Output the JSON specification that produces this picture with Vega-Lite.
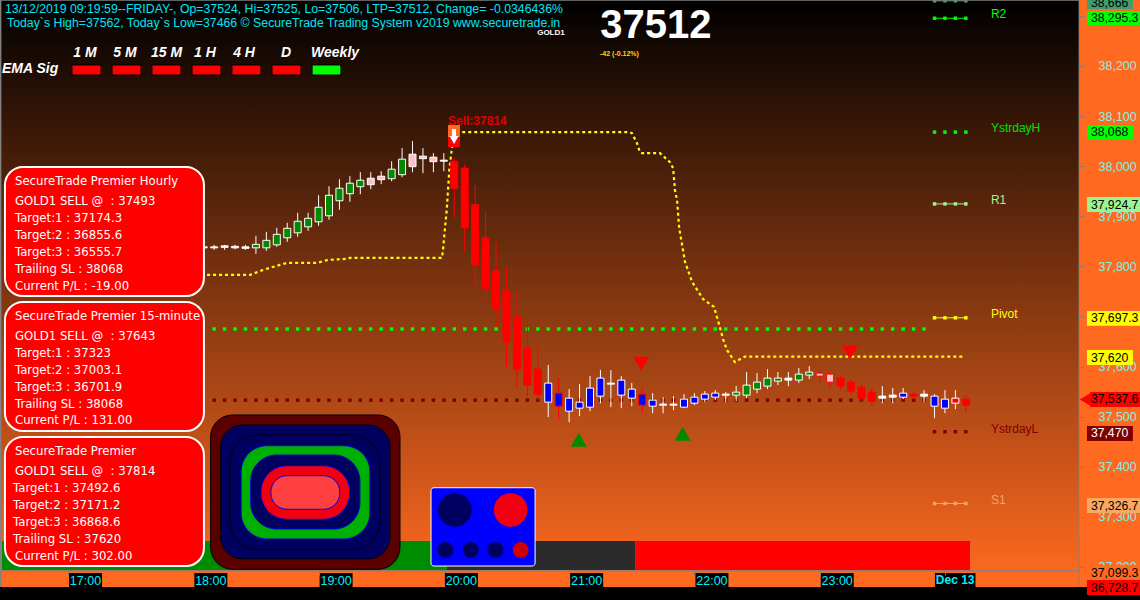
{"$schema":"https://vega.github.io/schema/vega-lite/v6.json","width":1140,"height":600,"padding":0,"autosize":"none","background":"#FF6A20","config":{"view":{"stroke":null},"legend":{"disable":true},"text":{"font":"Liberation Sans","baseline":"middle","align":"left"}},
"datasets":{
"candles":[
{"t":65,"open":37837,"close":37839,"high":37843,"low":37835,"kind":"doji","a":37675,"b":37533},
{"t":70,"open":37837,"close":37839,"high":37843,"low":37833,"kind":"doji","a":37675,"b":37533},
{"t":75,"open":37838,"close":37841,"high":37843,"low":37833,"kind":"doji","a":37675,"b":37533},
{"t":80,"open":37837,"close":37840,"high":37843,"low":37834,"kind":"doji","a":37675,"b":37533},
{"t":85,"open":37836,"close":37839,"high":37843,"low":37833,"kind":"doji","a":37675,"b":37533},
{"t":90,"open":37837,"close":37844,"high":37861,"low":37825,"kind":"green","a":37675,"b":37533},
{"t":95,"open":37837,"close":37852,"high":37869,"low":37831,"kind":"green","a":37675,"b":37533},
{"t":100,"open":37843,"close":37864,"high":37877,"low":37839,"kind":"green","a":37675,"b":37533},
{"t":105,"open":37857,"close":37876,"high":37887,"low":37849,"kind":"green","a":37675,"b":37533},
{"t":110,"open":37867,"close":37890,"high":37907,"low":37859,"kind":"green","a":37675,"b":37533},
{"t":115,"open":37879,"close":37896,"high":37907,"low":37871,"kind":"green","a":37675,"b":37533},
{"t":120,"open":37889,"close":37918,"high":37942,"low":37881,"kind":"green","a":37675,"b":37533},
{"t":125,"open":37901,"close":37942,"high":37960,"low":37893,"kind":"green","a":37675,"b":37533},
{"t":130,"open":37931,"close":37956,"high":37974,"low":37913,"kind":"green","a":37675,"b":37533},
{"t":135,"open":37945,"close":37966,"high":37980,"low":37929,"kind":"green","a":37675,"b":37533},
{"t":140,"open":37959,"close":37972,"high":37988,"low":37944,"kind":"green","a":37675,"b":37533},
{"t":145,"open":37976,"close":37963,"high":37988,"low":37954,"kind":"pink","a":37675,"b":37533},
{"t":150,"open":37980,"close":37973,"high":37990,"low":37964,"kind":"pink","a":37675,"b":37533},
{"t":155,"open":37975,"close":37994,"high":38010,"low":37970,"kind":"green","a":37675,"b":37533},
{"t":160,"open":37983,"close":38014,"high":38036,"low":37978,"kind":"green","a":37675,"b":37533},
{"t":165,"open":38024,"close":37999,"high":38050,"low":37988,"kind":"pink","a":37675,"b":37533},
{"t":170,"open":38020,"close":38015,"high":38036,"low":37986,"kind":"pink","a":37675,"b":37533},
{"t":175,"open":38018,"close":38009,"high":38026,"low":37988,"kind":"pink","a":37675,"b":37533},
{"t":180,"open":38012,"close":38010,"high":38026,"low":37990,"kind":"doji","a":37675,"b":37533},
{"t":185,"open":38010,"close":37956,"high":38016,"low":37897,"kind":"red","a":37675,"b":37533},
{"t":190,"open":37996,"close":37877,"high":38004,"low":37829,"kind":"red","a":37675,"b":37533},
{"t":195,"open":37923,"close":37803,"high":37962,"low":37755,"kind":"red","a":37675,"b":37533},
{"t":200,"open":37857,"close":37755,"high":37909,"low":37721,"kind":"red","a":37675,"b":37533},
{"t":205,"open":37791,"close":37715,"high":37849,"low":37679,"kind":"red","a":37675,"b":37533},
{"t":210,"open":37751,"close":37649,"high":37799,"low":37599,"kind":"red","a":37675,"b":37533},
{"t":215,"open":37699,"close":37595,"high":37751,"low":37559,"kind":"red","a":37675,"b":37533},
{"t":220,"open":37637,"close":37563,"high":37691,"low":37541,"kind":"red","a":37675,"b":37533},
{"t":225,"open":37595,"close":37545,"high":37643,"low":37533,"kind":"red","a":37675,"b":37533},
{"t":230,"open":37567,"close":37529,"high":37603,"low":37499,"kind":"blue","a":37675,"b":37533},
{"t":235,"open":37547,"close":37521,"high":37577,"low":37495,"kind":"blueR","a":37675,"b":37533},
{"t":240,"open":37537,"close":37511,"high":37555,"low":37489,"kind":"blue","a":37675,"b":37533},
{"t":245,"open":37529,"close":37517,"high":37565,"low":37501,"kind":"blue","a":37675,"b":37533},
{"t":250,"open":37557,"close":37519,"high":37581,"low":37511,"kind":"blue","a":37675,"b":37533},
{"t":255,"open":37577,"close":37541,"high":37593,"low":37527,"kind":"blue","a":37675,"b":37533},
{"t":260,"open":37567,"close":37565,"high":37593,"low":37519,"kind":"doji","a":37675,"b":37533},
{"t":265,"open":37573,"close":37543,"high":37581,"low":37517,"kind":"blue","a":37675,"b":37533},
{"t":270,"open":37555,"close":37537,"high":37567,"low":37521,"kind":"blue","a":37675,"b":37533},
{"t":275,"open":37545,"close":37523,"high":37555,"low":37507,"kind":"blueR","a":37675,"b":37533},
{"t":280,"open":37533,"close":37521,"high":37547,"low":37507,"kind":"blue","a":37675,"b":37533},
{"t":285,"open":37525,"close":37523,"high":37539,"low":37507,"kind":"doji","a":37675,"b":37533},
{"t":290,"open":37525,"close":37523,"high":37541,"low":37513,"kind":"doji","a":37675,"b":37533},
{"t":295,"open":37535,"close":37519,"high":37545,"low":37517,"kind":"blue","a":37675,"b":37533},
{"t":300,"open":37539,"close":37527,"high":37547,"low":37523,"kind":"blue","a":37675,"b":37533},
{"t":305,"open":37545,"close":37535,"high":37551,"low":37529,"kind":"blue","a":37675,"b":37533},
{"t":310,"open":37547,"close":37539,"high":37553,"low":37533,"kind":"blue","a":37675,"b":37533},
{"t":315,"open":37545,"close":37543,"high":37549,"low":37529,"kind":"doji","a":37675,"b":37533},
{"t":320,"open":37543,"close":37549,"high":37561,"low":37531,"kind":"green","a":37675,"b":37533},
{"t":325,"open":37543,"close":37563,"high":37589,"low":37537,"kind":"green","a":37675,"b":37533},
{"t":330,"open":37555,"close":37569,"high":37587,"low":37547,"kind":"green","a":37675,"b":37533},
{"t":335,"open":37561,"close":37577,"high":37595,"low":37555,"kind":"green","a":37675,"b":37533},
{"t":340,"open":37571,"close":37577,"high":37589,"low":37563,"kind":"green","a":37675,"b":37533},
{"t":345,"open":37573,"close":37577,"high":37589,"low":37561,"kind":"doji","a":37675,"b":37533},
{"t":350,"open":37573,"close":37585,"high":37597,"low":37567,"kind":"green","a":37675,"b":37533},
{"t":355,"open":37583,"close":37589,"high":37601,"low":37575,"kind":"green","a":37675,"b":37533},
{"t":360,"open":37587,"close":37581,"high":37593,"low":37567,"kind":"pinkR","a":37675,"b":37533},
{"t":365,"open":37585,"close":37569,"high":37589,"low":37557,"kind":"pinkR","a":37675,"b":37533},
{"t":370,"open":37577,"close":37561,"high":37581,"low":37553,"kind":"red","a":37675,"b":37533},
{"t":375,"open":37569,"close":37551,"high":37575,"low":37543,"kind":"red","a":37675,"b":37533},
{"t":380,"open":37559,"close":37537,"high":37565,"low":37529,"kind":"red","a":37675,"b":37533},
{"t":385,"open":37549,"close":37531,"high":37557,"low":37521,"kind":"red","a":37675,"b":37533},
{"t":390,"open":37541,"close":37537,"high":37561,"low":37527,"kind":"doji","a":37675,"b":37533},
{"t":395,"open":37543,"close":37539,"high":37557,"low":37527,"kind":"doji","a":37675,"b":37533},
{"t":400,"open":37547,"close":37539,"high":37557,"low":37535,"kind":"blue","a":37675,"b":37533},
{"t":405,"open":37545,"close":37541,"high":37551,"low":37535,"kind":"red","a":37675,"b":37533},
{"t":410,"open":37545,"close":37541,"high":37553,"low":37529,"kind":"doji","a":37675,"b":37533},
{"t":415,"open":37541,"close":37521,"high":37545,"low":37497,"kind":"blue"},
{"t":420,"open":37535,"close":37517,"high":37553,"low":37507,"kind":"blue"},
{"t":425,"open":37537,"close":37527,"high":37553,"low":37515,"kind":"redW"},
{"t":430,"open":37535,"close":37523,"high":37543,"low":37509,"kind":"red"}
],
"trail":[{"t":66.6,"price":37783},{"t":87.2,"price":37783},{"t":93.4,"price":37793},{"t":101.5,"price":37803},{"t":104.9,"price":37807},{"t":119.3,"price":37807},{"t":124.5,"price":37813},{"t":133.6,"price":37815},{"t":135,"price":37817},{"t":179.1,"price":37817},{"t":179.6,"price":37833},{"t":180.6,"price":37879},{"t":181.5,"price":37919},{"t":182,"price":37952},{"t":182.6,"price":37992},{"t":183.8,"price":38034},{"t":184.9,"price":38068},{"t":268.7,"price":38068},{"t":270.1,"price":38066},{"t":272.5,"price":38046},{"t":273.9,"price":38028},{"t":274.9,"price":38026},{"t":283.5,"price":38026},{"t":288.3,"price":38008},{"t":289.8,"price":37996},{"t":290.7,"price":37952},{"t":291.7,"price":37932},{"t":292.7,"price":37877},{"t":295.5,"price":37809},{"t":298.9,"price":37769},{"t":304.1,"price":37735},{"t":309.4,"price":37719},{"t":310.8,"price":37699},{"t":312.3,"price":37677},{"t":313.7,"price":37655},{"t":315.6,"price":37633},{"t":319.4,"price":37609},{"t":324.2,"price":37620},{"t":428.6,"price":37620}],
"levels":[
{"key":"R3","kindL":"line","t":415,"price":38330},{"key":"R3","kindL":"line","t":420,"price":38330},{"key":"R3","kindL":"line","t":425,"price":38330},{"key":"R3","kindL":"line","t":430,"price":38330},
{"key":"R2","kindL":"line","t":415,"price":38295.3},{"key":"R2","kindL":"line","t":420,"price":38295.3},{"key":"R2","kindL":"line","t":425,"price":38295.3},{"key":"R2","kindL":"line","t":430,"price":38295.3},
{"key":"YH","kindL":"dots","t":415,"price":38068},{"key":"YH","kindL":"dots","t":420,"price":38068},{"key":"YH","kindL":"dots","t":425,"price":38068},{"key":"YH","kindL":"dots","t":430,"price":38068},
{"key":"R1","kindL":"line","t":415,"price":37924.7},{"key":"R1","kindL":"line","t":420,"price":37924.7},{"key":"R1","kindL":"line","t":425,"price":37924.7},{"key":"R1","kindL":"line","t":430,"price":37924.7},
{"key":"Pivot","kindL":"line","t":415,"price":37697.3},{"key":"Pivot","kindL":"line","t":420,"price":37697.3},{"key":"Pivot","kindL":"line","t":425,"price":37697.3},{"key":"Pivot","kindL":"line","t":430,"price":37697.3},
{"key":"YL","kindL":"dots","t":415,"price":37470},{"key":"YL","kindL":"dots","t":420,"price":37470},{"key":"YL","kindL":"dots","t":425,"price":37470},{"key":"YL","kindL":"dots","t":430,"price":37470},
{"key":"S1","kindL":"line","t":415,"price":37326.7},{"key":"S1","kindL":"line","t":420,"price":37326.7},{"key":"S1","kindL":"line","t":425,"price":37326.7},{"key":"S1","kindL":"line","t":430,"price":37326.7}
],
"levelLabels":[{"label":"R2","key":"R2","t":442,"price":38304},{"label":"YstrdayH","key":"YHt","t":442,"price":38076},{"label":"R1","key":"R1","t":442,"price":37932.5},{"label":"Pivot","key":"Pivot","t":442,"price":37705},{"label":"YstrdayL","key":"YL","t":442,"price":37475.4},{"label":"S1","key":"S1","t":442,"price":37333.7}],
"tags":[
{"label":"38,666","key":"R3","t":488,"t2":510,"price":38331.7,"price2":38313.7,"mid":38325.7,"tx":489.9},
{"label":"38,295.3","key":"R2","t":488,"t2":513.41,"price":38309.7,"price2":38281.8,"mid":38295.8,"tx":489.9},
{"label":"38,068","key":"YH","t":488,"t2":510,"price":38082.2,"price2":38053.3,"mid":38068,"tx":489.9},
{"label":"37,924.7","key":"R1","t":488,"t2":513.41,"price":37938.5,"price2":37908.5,"mid":37923.5,"tx":489.9},
{"label":"37,697.3","key":"Pivot","t":488,"t2":513.41,"price":37710.9,"price2":37681.6,"mid":37696.3,"tx":489.9},
{"label":"37,620","key":"Pivot","t":488,"t2":510,"price":37633.1,"price2":37603.2,"mid":37618.1,"tx":489.9},
{"label":"37,537.6","key":"LTP","t":489.5,"t2":513.41,"price":37549.3,"price2":37519.3,"mid":37534.3,"tx":489.9},
{"label":"37,470","key":"YL","t":488,"t2":510,"price":37481.4,"price2":37451.5,"mid":37466.5,"tx":489.9},
{"label":"37,326.7","key":"S1t","t":488,"t2":513.41,"price":37337.7,"price2":37307.8,"mid":37322.7,"tx":489.9},
{"label":"37,099.3","key":"Base","t":488,"t2":513.41,"price":37204,"price2":37174,"mid":37188.6,"tx":489.9},
{"label":"36,728.7","key":"LTP","t":488,"t2":513.41,"price":37174,"price2":37144,"mid":37159,"tx":489.9}
],
"ema":[
{"tf":"1 M","key":"SELL","t":1.9,"t2":15.8,"tc":8.1,"price":38202,"price2":38182,"pl":38226},{"tf":"5 M","key":"SELL","t":21.1,"t2":35,"tc":27.3,"price":38202,"price2":38182,"pl":38226},{"tf":"15 M","key":"SELL","t":40.2,"t2":54.1,"tc":47.2,"price":38202,"price2":38182,"pl":38226},{"tf":"1 H","key":"SELL","t":59.4,"t2":73.3,"tc":65.6,"price":38202,"price2":38182,"pl":38226},{"tf":"4 H","key":"SELL","t":78.5,"t2":92.4,"tc":84.3,"price":38202,"price2":38182,"pl":38226},{"tf":"D","key":"SELL","t":97.7,"t2":111.6,"tc":104.4,"price":38202,"price2":38182,"pl":38226},{"tf":"Weekly","key":"BUY","t":116.9,"t2":130.7,"tc":127.9,"price":38202,"price2":38182,"pl":38226}
],
"cardsText":[
{"label":"SecureTrade Premier Hourly","t":-25.4,"price":37970.4},{"label":"GOLD1 SELL @ \u00a0: 37493","t":-25.4,"price":37931.1},{"label":"Target:1 : 37174.3","t":-25.4,"price":37897.2},{"label":"Target:2 : 36855.6","t":-25.4,"price":37863.2},{"label":"Target:3 : 36555.7","t":-25.4,"price":37829.3},{"label":"Trailing SL : 38068","t":-25.4,"price":37795.4},{"label":"Current P/L : -19.00","t":-25.4,"price":37761.4},
{"label":"SecureTrade Premier 15-minute","t":-25.4,"price":37701.6},{"label":"GOLD1 SELL @ \u00a0: 37643","t":-25.4,"price":37661.6},{"label":"Target:1 : 37323","t":-25.4,"price":37627.1},{"label":"Target:2 : 37003.1","t":-25.4,"price":37593.2},{"label":"Target:3 : 36701.9","t":-25.4,"price":37559.8},{"label":"Trailing SL : 38068","t":-25.4,"price":37525.9},{"label":"Current P/L : 131.00","t":-25.4,"price":37492.8},
{"label":"SecureTrade Premier","t":-25.4,"price":37432.1},{"label":"GOLD1 SELL @ \u00a0: 37814","t":-25.4,"price":37392.2},{"label":"Target:1 : 37492.6","t":-26.3,"price":37358.2},{"label":"Target:2 : 37171.2","t":-26.3,"price":37324.3},{"label":"Target:3 : 36868.6","t":-26.3,"price":37290.4},{"label":"Trailing SL : 37620","t":-26.3,"price":37256.4},{"label":"Current P/L : 302.00","t":-25.4,"price":37222.5}
]},
"encoding":{
"x":{"field":"t","type":"quantitative","title":null,"scale":{"domain":[-32.57,513.41],"nice":false,"zero":false,"padding":0},
"axis":{"orient":"bottom","offset":-30,"values":[0,60,120,180,240,300,360,420],"labelExpr":"datum.value<420 ? format(17+datum.value/60,'d')+':00' : ''","grid":false,"domain":false,"tickColor":"#808080","tickSize":5,"labelColor":"#00F0FF","labelFont":"Liberation Sans","labelFontSize":12.5,"labelBaseline":"middle","labelPadding":5,"labelOffset":17,"labelFlush":false,"labelOverlap":false,"labelBound":false,"zindex":1,"title":null}},
"y":{"field":"price","type":"quantitative","title":null,"scale":{"domain":[37134.1,38331.7],"nice":false,"zero":false,"padding":0},
"axis":{"orient":"right","offset":-61,"values":[38300,38200,38100,38000,37900,37800,37700,37600,37500,37400,37300,37200],"format":",d","grid":false,"domain":false,"tickColor":"#808080","tickSize":5,"labelColor":"#7FF0E8","labelFont":"Liberation Sans","labelFontSize":12.5,"labelPadding":14,"labelFlush":false,"labelOverlap":false,"labelBound":false,"zindex":0,"title":null}}
},
"layer":[
{"data":{"values":[{"t":-32.57,"t2":484.2,"price":38331.7,"price2":37194}]},"mark":{"type":"rect","color":{"gradient":"linear","x1":0,"y1":0,"x2":0,"y2":1,"stops":[{"offset":0,"color":"#000000"},{"offset":1,"color":"#FA681F"}]}},"encoding":{"x2":{"field":"t2"},"y2":{"field":"price2"}}},
{"data":{"values":[{"key":"bandBuy","t":-31.6,"t2":181.5,"price":37251.9,"price2":37194},{"key":"bandFlat","t":181.5,"t2":271.6,"price":37251.9,"price2":37194},{"key":"bandSell","t":271.6,"t2":432,"price":37251.9,"price2":37194}]},"mark":{"type":"rect"},"encoding":{"x2":{"field":"t2"},"y2":{"field":"price2"},"color":{"field":"key","type":"nominal","legend":null,"scale":{
"domain":["R3","R2","YH","YHt","R1","Pivot","LTP","YL","S1","S1t","Base","bandBuy","bandFlat","bandSell","SELL","BUY","maroon","navy","green2","red2","salmon","blue2","redDark"],
"range":["#3E9E6E","#00FF00","#00FF00","#00E000","#9CF590","#FFFF00","#FF0000","#800000","#F4A460","#F8A860","#FF6A20","#008C00","#2B2B2B","#FF0000","#FF0000","#00FF00","#5A0000","#000060","#00B000","#F00010","#FF4040","#0000FF","#D00000"]}}}},
{"data":{"name":"candles"},"transform":[{"filter":"datum.t>=70 && datum.t<=410"}],"mark":{"type":"point","shape":"square","filled":true,"size":12,"opacity":1,"color":"#00FF00"},"encoding":{"y":{"field":"a","type":"quantitative"}}},
{"data":{"name":"candles"},"transform":[{"filter":"datum.t>=70 && datum.t<=410"}],"mark":{"type":"point","shape":"square","filled":true,"size":12,"opacity":1,"color":"#800000"},"encoding":{"y":{"field":"b","type":"quantitative"}}},
{"data":{"name":"trail"},"mark":{"type":"line","color":"#FFFF00","strokeWidth":2.2,"strokeDash":[3,3]}},
{"data":{"name":"levels"},"transform":[{"filter":"datum.kindL=='line'"}],"mark":{"type":"line","strokeWidth":1},"encoding":{"color":{"field":"key","type":"nominal","legend":null}}},
{"data":{"name":"levels"},"mark":{"type":"point","shape":"square","filled":true,"size":12,"opacity":1},"encoding":{"color":{"field":"key","type":"nominal","legend":null}}},
{"data":{"name":"candles"},"mark":{"type":"rule","strokeWidth":1},"encoding":{"y":{"field":"high","type":"quantitative"},"y2":{"field":"low"},"stroke":{"field":"kind","type":"nominal","legend":null,"scale":{"domain":["doji","green","pink","red","blue","blueR","redW","pinkR"],"range":["#FFFFFF","#FFFFFF","#FFFFFF","#FF0000","#FFFFFF","#FF0000","#FFFFFF","#FF0000"]}}}},
{"data":{"name":"candles"},"mark":{"type":"bar","size":7,"strokeWidth":1},"encoding":{"y":{"field":"open","type":"quantitative"},"y2":{"field":"close"},"stroke":{"field":"kind","type":"nominal","legend":null},"fill":{"field":"kind","type":"nominal","legend":null,"scale":{"domain":["doji","green","pink","red","blue","blueR","redW","pinkR"],"range":["#FFFFFF","#008A00","#FFC0CB","#FF0000","#0000FF","#0000FF","#FF0000","#FFC0CB"]}}}},
{"data":{"values":[{"t":274.5,"price":37606},{"t":374.5,"price":37628}]},"mark":{"type":"point","shape":"triangle-down","filled":true,"size":256,"opacity":1,"color":"#FF0000"}},
{"data":{"values":[{"t":244.6,"price":37454},{"t":294.4,"price":37466}]},"mark":{"type":"point","shape":"triangle-up","filled":true,"size":256,"opacity":1,"color":"#008A00"}},
{"data":{"values":[{"t":182,"t2":187.7,"price":38082.2,"price2":38038.3}]},"mark":{"type":"rect","color":"#FF0000"},"encoding":{"x2":{"field":"t2"},"y2":{"field":"price2"}}},
{"data":{"values":[{"t":182,"t2":187.7,"price":38082.2,"price2":38058.3}]},"mark":{"type":"rect","color":"#FF6A20"},"encoding":{"x2":{"field":"t2"},"y2":{"field":"price2"}}},
{"data":{"values":[{"t":183.9,"t2":185.8,"price":38074.2,"price2":38058.3}]},"mark":{"type":"rect","color":"#FFFFFF"},"encoding":{"x2":{"field":"t2"},"y2":{"field":"price2"}}},
{"data":{"values":[{"t":184.9,"price":38052.3}]},"mark":{"type":"point","shape":"triangle-down","filled":true,"size":81,"opacity":1,"color":"#FFFFFF"}},
{"data":{"values":[{"label":"Sell:37814","t":182,"price":38090.2}]},"mark":{"type":"text","color":"#E00000","fontSize":12,"fontWeight":"bold"},"encoding":{"text":{"field":"label"}}},
{"data":{"values":[{"key":"maroon","t":68.3,"t2":159,"price":37503.4,"price2":37195.4},{"key":"navy","t":73.1,"t2":154.2,"price":37483.4,"price2":37216}]},"mark":{"type":"rect","cornerRadius":22,"stroke":"#000000","strokeWidth":1},"encoding":{"x2":{"field":"t2"},"y2":{"field":"price2"},"color":{"field":"key","type":"nominal","legend":null}}},
{"data":{"values":[{"key":"navy","t":77.6,"t2":149.4,"price":37463.4,"price2":37234.5}]},"mark":{"type":"rect","cornerRadius":28,"stroke":"#000000","strokeWidth":1},"encoding":{"x2":{"field":"t2"},"y2":{"field":"price2"},"color":{"field":"key","type":"nominal","legend":null}}},
{"data":{"values":[{"key":"green2","t":82.9,"t2":144.6,"price":37442,"price2":37255.9},{"key":"navy","t":87.5,"t2":139.8,"price":37423.5,"price2":37275.8},{"key":"red2","t":92.4,"t2":134.9,"price":37402.1,"price2":37295.2}]},"mark":{"type":"rect","cornerRadius":26,"stroke":"#0000E0","strokeWidth":1},"encoding":{"x2":{"field":"t2"},"y2":{"field":"price2"},"color":{"field":"key","type":"nominal","legend":null}}},
{"data":{"values":[{"key":"salmon","t":97.2,"t2":130.1,"price":37382.2,"price2":37315.2}]},"mark":{"type":"rect","cornerRadius":16,"stroke":"#0000E0","strokeWidth":1},"encoding":{"x2":{"field":"t2"},"y2":{"field":"price2"},"color":{"field":"key","type":"nominal","legend":null}}},
{"data":{"values":[{"t":-30.2,"t2":65.1,"price":37998.4,"price2":37740.9},{"t":-30.2,"t2":65.1,"price":37728.9,"price2":37471.4},{"t":-30.2,"t2":65.1,"price":37459.4,"price2":37201.9}]},"mark":{"type":"rect","color":"#FF0000","stroke":"#FFFFFF","strokeWidth":2,"cornerRadius":18},"encoding":{"x2":{"field":"t2"},"y2":{"field":"price2"}}},
{"data":{"name":"cardsText"},"mark":{"type":"text","color":"#FFFFFF","font":"DejaVu Sans","fontSize":11.7},"encoding":{"text":{"field":"label"}}},
{"data":{"values":[{"t":173.85,"t2":223.7,"price":37358.2,"price2":37201.9}]},"mark":{"type":"rect","color":"#0000FF","stroke":"#FFFFFF","strokeWidth":1,"cornerRadius":3},"encoding":{"x2":{"field":"t2"},"y2":{"field":"price2"}}},
{"data":{"values":[{"key":"navy","t":185.3,"price":37313.7},{"key":"red2","t":212,"price":37313.7}]},"mark":{"type":"point","shape":"circle","filled":true,"size":1134,"opacity":1},"encoding":{"color":{"field":"key","type":"nominal","legend":null}}},
{"data":{"values":[{"key":"navy","t":180.8,"price":37233.9},{"key":"navy","t":192.9,"price":37233.9},{"key":"navy","t":204.7,"price":37233.9},{"key":"redDark","t":216.8,"price":37233.9}]},"mark":{"type":"point","shape":"circle","filled":true,"size":254,"opacity":1},"encoding":{"color":{"field":"key","type":"nominal","legend":null}}},
{"data":{"values":[{"t":-32.57,"t2":513.41,"price":37160,"price2":37134.1}]},"mark":{"type":"rect","color":"#000000"},"encoding":{"x2":{"field":"t2"},"y2":{"field":"price2"}}},
{"data":{"values":[{"t":-32.57,"t2":484.2,"price":38331.7,"price2":38330.2},{"t":-32.57,"t2":-31.9,"price":38331.7,"price2":37160},{"t":-32.57,"t2":484.2,"price":37193.5,"price2":37191}]},"mark":{"type":"rect","color":"#808080"},"encoding":{"x2":{"field":"t2"},"y2":{"field":"price2"}}},
{"data":{"values":[{"t":484.0,"t2":484.4,"price":38331.7,"price2":37160}]},"mark":{"type":"rect","color":"#808080"},"encoding":{"x2":{"field":"t2"},"y2":{"field":"price2"}}},
{"data":{"values":[{"t":0.5,"t2":16.3,"price":37188,"price2":37160},{"t":60.5,"t2":76.3,"price":37188,"price2":37160},{"t":120.5,"t2":136.3,"price":37188,"price2":37160},{"t":180.5,"t2":196.3,"price":37188,"price2":37160},{"t":240.5,"t2":256.3,"price":37188,"price2":37160},{"t":300.5,"t2":316.3,"price":37188,"price2":37160},{"t":360.5,"t2":376.3,"price":37188,"price2":37160},{"t":415.2,"t2":434.6,"price":37188,"price2":37160}]},"mark":{"type":"rect","color":"#000000"},"encoding":{"x2":{"field":"t2"},"y2":{"field":"price2"}}},
{"data":{"values":[{"label":"Dec 13","t":424.9,"price":37174}]},"mark":{"type":"text","color":"#00F0FF","fontSize":12,"fontWeight":"bold","align":"center"},"encoding":{"text":{"field":"label"}}},
{"data":{"name":"levelLabels"},"mark":{"type":"text","fontSize":12},"encoding":{"text":{"field":"label"},"color":{"field":"key","type":"nominal","legend":null}}},
{"data":{"name":"tags"},"mark":{"type":"rect"},"encoding":{"x2":{"field":"t2"},"y2":{"field":"price2"},"color":{"field":"key","type":"nominal","legend":null}}},
{"data":{"values":[{"t":487.6,"price":37534.3}]},"mark":{"type":"point","shape":"triangle-left","filled":true,"size":225,"opacity":1,"color":"#FF0000"}},
{"data":{"name":"tags"},"transform":[{"filter":"datum.label!='37,470'"}],"mark":{"type":"text","color":"#000000","fontSize":12.2},"encoding":{"x":{"field":"tx","type":"quantitative"},"y":{"field":"mid","type":"quantitative"},"text":{"field":"label"}}},
{"data":{"name":"tags"},"transform":[{"filter":"datum.label=='37,470'"}],"mark":{"type":"text","color":"#FFFFFF","fontSize":12.2},"encoding":{"x":{"field":"tx","type":"quantitative"},"y":{"field":"mid","type":"quantitative"},"text":{"field":"label"}}},
{"data":{"name":"ema"},"mark":{"type":"rect","stroke":"#000000","strokeWidth":1},"encoding":{"x2":{"field":"t2"},"y2":{"field":"price2"},"color":{"field":"key","type":"nominal","legend":null}}},
{"data":{"name":"ema"},"mark":{"type":"text","color":"#FFFFFF","fontSize":14,"fontWeight":"bold","fontStyle":"italic","align":"center"},"encoding":{"x":{"field":"tc","type":"quantitative"},"y":{"field":"pl","type":"quantitative"},"text":{"field":"tf"}}},
{"data":{"values":[{"label":"EMA Sig","t":-31.6,"price":38194}]},"mark":{"type":"text","color":"#FFFFFF","fontSize":14,"fontWeight":"bold","fontStyle":"italic"},"encoding":{"text":{"field":"label"}}},
{"data":{"values":[{"label":"13/12/2019 09:19:59--FRIDAY-, Op=37524, Hi=37525, Lo=37506, LTP=37512, Change= -0.0346436%","t":-30.2,"price":38313.7},{"label":"Today`s High=37562, Today`s Low=37466 © SecureTrade Trading System v2019 www.securetrade.in","t":-29.2,"price":38285.8}]},"mark":{"type":"text","color":"#00E5F5","fontSize":12.3},"encoding":{"text":{"field":"label"}}},
{"data":{"values":[{"label":"37512","t":281.6,"price":38279.8}]},"mark":{"type":"text","color":"#FFFFFF","fontSize":40,"fontWeight":"bold","align":"center"},"encoding":{"text":{"field":"label"}}},
{"data":{"values":[{"label":"GOLD1","t":231.3,"price":38265.8}]},"mark":{"type":"text","color":"#FFFFFF","fontSize":8,"fontWeight":"bold","align":"center"},"encoding":{"text":{"field":"label"}}},
{"data":{"values":[{"label":"-42 (-0.12%)","t":254.8,"price":38223.9}]},"mark":{"type":"text","color":"#FFD700","fontSize":7,"fontWeight":"bold"},"encoding":{"text":{"field":"label"}}}
]}
